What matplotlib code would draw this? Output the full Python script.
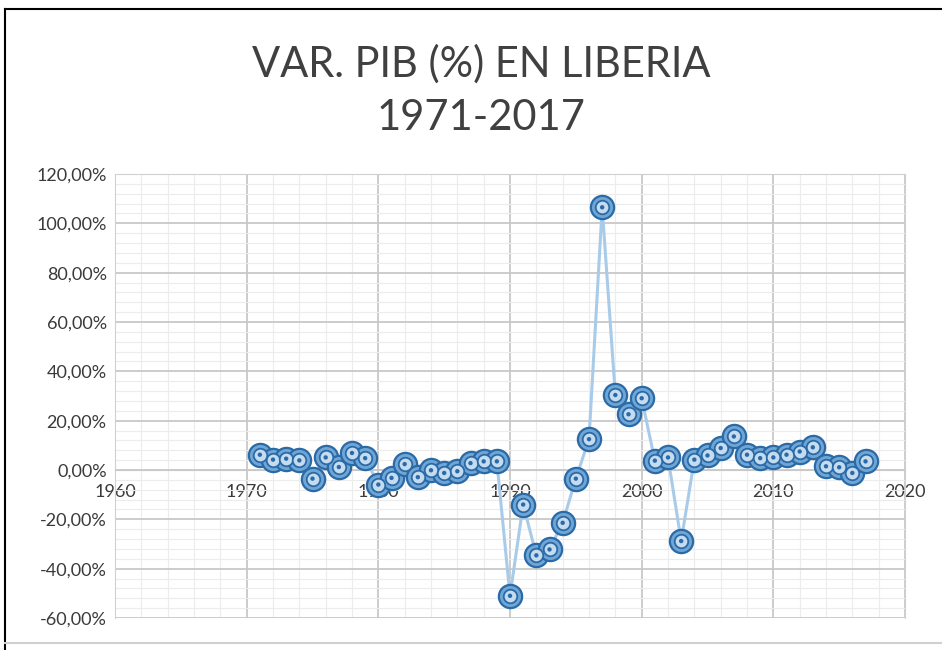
import matplotlib.pyplot as plt
from matplotlib.ticker import FuncFormatter, MultipleLocator
from matplotlib.lines import Line2D

years = list(range(1971, 2018))
growth = [6.2, 4.2, 4.6, 3.9, -3.5, 5.1, 1.2, 6.9, 4.8, -5.9,
          -3.2, 2.4, -2.9, -0.1, -1.2, -0.5, 2.8, 3.5, 3.5, -51.0,
          -14.0, -34.6, -32.2, -21.4, -3.5, 12.5, 106.5, 30.4, 22.6, 29.1,
          3.8, 5.1, -28.8, 4.2, 5.9, 8.9, 13.6, 6.2, 4.8, 5.1,
          6.2, 7.5, 9.2, 1.5, 1.1, -1.2, 3.5]

title_lines = ["VAR. PIB (%) EN LIBERIA", "1971-2017"]

fig = plt.figure(figsize=(9.42, 6.5), dpi=100)
ax = fig.add_axes([115/942, 32/650, 790/942, 444/650])

# series: light line + "double circle" markers
ax.plot(years, growth, color='#a9cbea', lw=2.2, zorder=3)
ax.scatter(years, growth, s=280, facecolor='#6fa6d6', edgecolor='#2a6aa6', lw=1.6, zorder=4)
ax.scatter(years, growth, s=95, facecolor='#c5dcf0', edgecolor='#2a6aa6', lw=1.3, zorder=5)
ax.scatter(years, growth, s=10, facecolor='#2a6aa6', edgecolor='none', zorder=6)

ax.set_xlim(1960, 2020)
ax.set_ylim(-60, 120)
ax.xaxis.set_major_locator(MultipleLocator(10))
ax.xaxis.set_minor_locator(MultipleLocator(2))
ax.yaxis.set_major_locator(MultipleLocator(20))
ax.yaxis.set_minor_locator(MultipleLocator(4))
ax.grid(True, which='major', color='#c8c8c8', lw=1.3, zorder=0)
ax.grid(True, which='minor', color='#ececec', lw=0.8, zorder=0)
ax.set_axisbelow(True)

ax.yaxis.set_major_formatter(FuncFormatter(lambda v, p: ('%.2f%%' % v).replace('.', ',')))
for s in ['top', 'right', 'left']:
    ax.spines[s].set_color('#d0d0d0')
ax.spines['bottom'].set_position(('data', 0))
ax.spines['bottom'].set_color('#c8c8c8')
ax.tick_params(which='both', length=0)
ax.tick_params(axis='y', pad=6)
ax.tick_params(axis='x', pad=10)
for lab in ax.get_xticklabels() + ax.get_yticklabels():
    lab.set_fontfamily('Lato')
    lab.set_fontsize(13)
    lab.set_color('#3a3a3a')

for txt, yy in zip(title_lines, [64, 118]):
    fig.text(0.511, 1 - yy/650, txt, ha='center', va='center',
             fontsize=30, fontfamily='Lato', color='#404040')

# frame of the screenshot
fig.add_artist(Line2D([5/942, 1], [1 - 9/650, 1 - 9/650], color='black', lw=1.5))
fig.add_artist(Line2D([5/942, 5/942], [0, 1 - 9/650], color='black', lw=1.5))
fig.add_artist(Line2D([5/942, 1], [7/650, 7/650], color='#d0d0d0', lw=1.5))

fig.savefig('out.png', dpi=100)
